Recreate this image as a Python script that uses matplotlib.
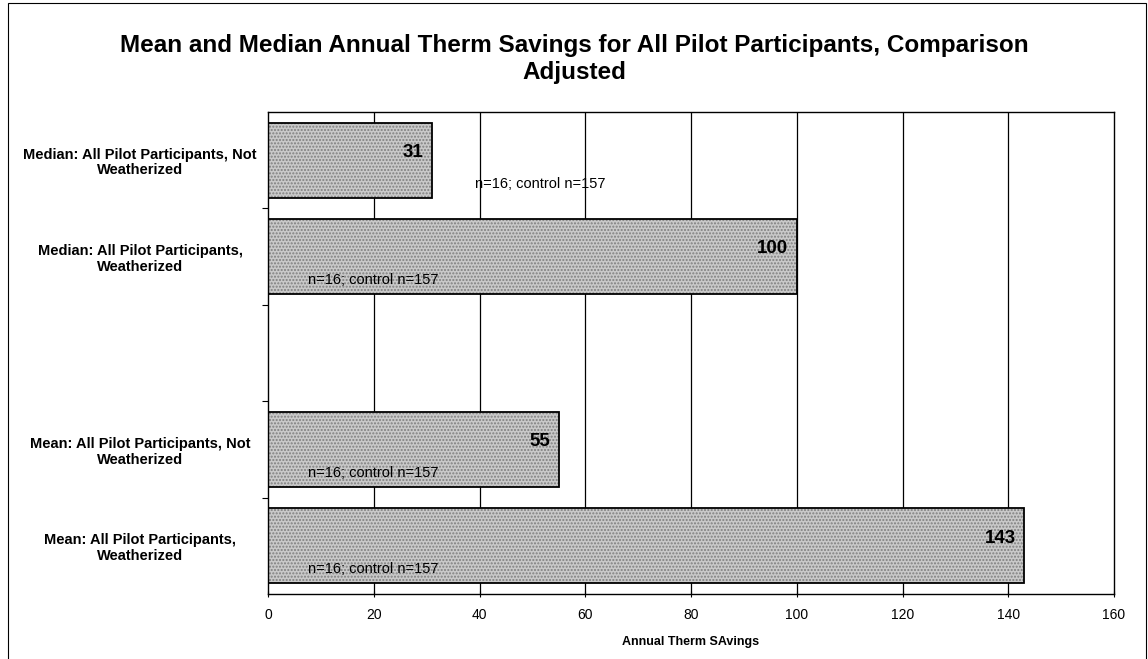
import numpy as np
import matplotlib.pyplot as plt
from matplotlib.patches import Rectangle

plt.rcParams['font.family'] = ['Liberation Sans', 'DejaVu Sans']

# Data
categories = ["Median: All Pilot Participants, Not\nWeatherized",
              "Median: All Pilot Participants,\nWeatherized",
              "",
              "Mean: All Pilot Participants, Not\nWeatherized",
              "Mean: All Pilot Participants,\nWeatherized"]
savings = [31, 100, np.nan, 55, 143]
n_labels = ["n=16; control n=157", "n=16; control n=157", "",
            "n=16; control n=157", "n=16; control n=157"]
n_label_x = [39.2, 7.6, None, 7.6, 7.6]
x_ticks = [0, 20, 40, 60, 80, 100, 120, 140, 160]

fig = plt.figure(figsize=(11.48, 6.59), dpi=100)
ax = fig.add_axes([268 / 1148, 1 - 594 / 659, (1114 - 268) / 1148, (594 - 112) / 659])

ypos = np.arange(len(categories))

# Grid
for xv in x_ticks[1:-1]:
    ax.axvline(xv, color='black', lw=0.9, zorder=0)

# Bars: dithered grey fill, then black outline
vals = np.nan_to_num(savings)
ax.barh(ypos, vals, height=0.78, color='#c9c9c9', hatch='.....',
        edgecolor='#7f7f7f', lw=0, zorder=2)
ax.barh(ypos, vals, height=0.78, facecolor='none', edgecolor='black',
        lw=1.3, zorder=3)

for i, v in enumerate(savings):
    if np.isnan(v):
        continue
    ax.text(v - 1.6, i - 0.08, f"{v:.0f}", ha='right', va='center',
            fontsize=13.5, fontweight='bold', zorder=4)
    ax.text(n_label_x[i], i + 0.245, n_labels[i], ha='left', va='center',
            fontsize=10.5, zorder=4)

ax.set_xlim(0, 160)
ax.set_ylim(4.5, -0.5)
ax.set_xticks(x_ticks)
ax.set_xticklabels([str(t) for t in x_ticks], fontsize=10)
ax.set_yticks(ypos)
ax.set_yticklabels(categories, fontsize=10.5, fontweight='bold',
                   ha='center', multialignment='center', linespacing=1.15)
ax.tick_params(axis='y', length=0, pad=92)
ax.set_yticks(np.arange(0.5, 4.5, 1), minor=True)
ax.tick_params(axis='y', which='minor', length=4, width=0.8)
ax.tick_params(axis='x', length=4, width=0.8, direction='inout', pad=8)
ax.set_xlabel("Annual Therm SAvings", fontsize=9, fontweight='bold',
              labelpad=10)
for s in ax.spines.values():
    s.set_linewidth(1.0)

fig.text(0.5, 1 - 59 / 659,
         "Mean and Median Annual Therm Savings for All Pilot Participants, Comparison\nAdjusted",
         ha='center', va='center', fontsize=17.5, fontweight='bold',
         linespacing=1.2)

# outer chart border
fig.patches.append(Rectangle((0.007, -0.01), 0.991, 1.005, transform=fig.transFigure,
                             fill=False, edgecolor='black', lw=0.8))

fig.savefig("out.png", dpi=100)
